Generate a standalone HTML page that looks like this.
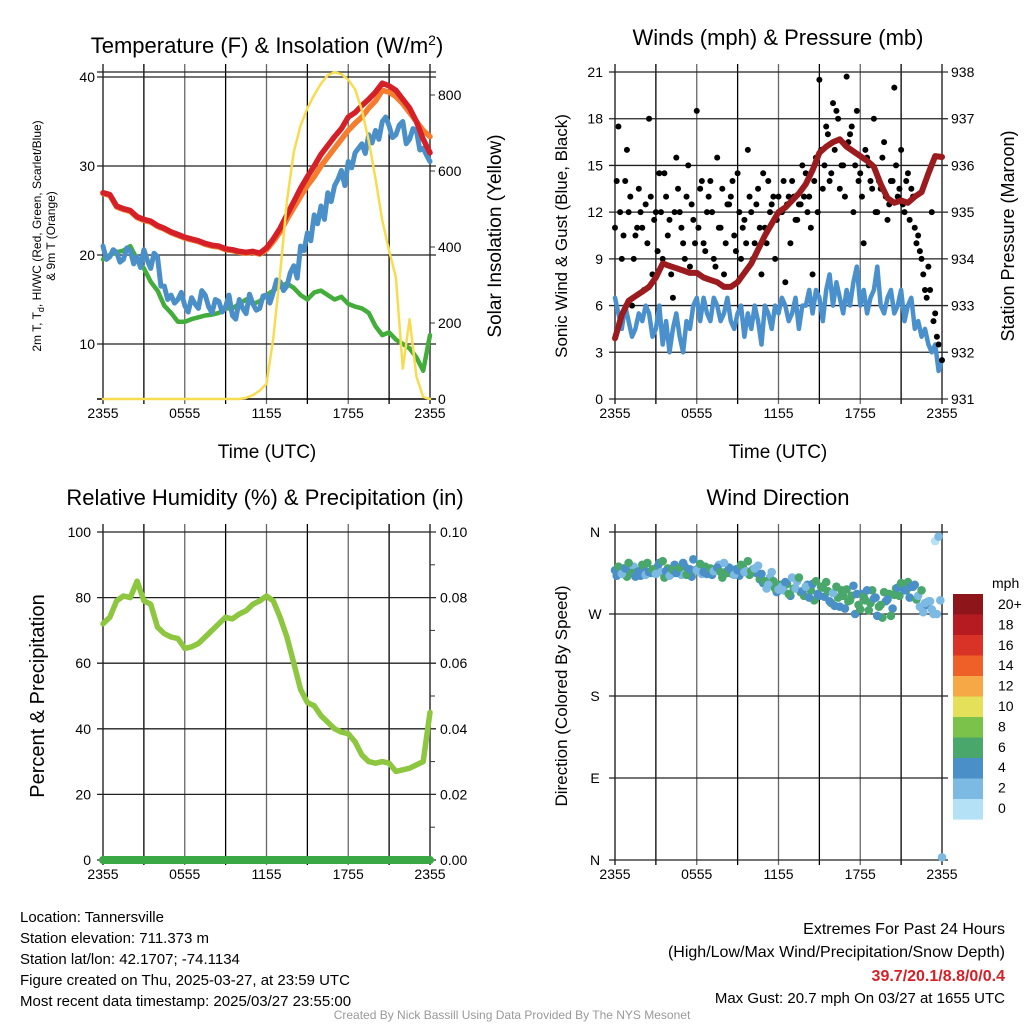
<!DOCTYPE html>
<html><head><meta charset="utf-8">
<style>
html,body{margin:0;padding:0;background:#fff;}
svg{display:block;font-family:"Liberation Sans",Arial,sans-serif;}
</style></head>
<body>
<svg id="chart" width="1024" height="1024" viewBox="0 0 1024 1024" xmlns="http://www.w3.org/2000/svg">
  <rect width="1024" height="1024" fill="#fff"/>
  <g id="p1"></g>
  <g id="p2"></g>
  <g id="p3"></g>
  <g id="p4"></g>

  <text x="267" y="53" font-size="22" text-anchor="middle">Temperature (F) &amp; Insolation (W/m<tspan dy="-8" font-size="14">2</tspan><tspan dy="8">)</tspan></text>
  <text x="778" y="45" font-size="22" text-anchor="middle">Winds (mph) &amp; Pressure (mb)</text>
  <text x="265" y="505" font-size="22" text-anchor="middle">Relative Humidity (%) &amp; Precipitation (in)</text>
  <text x="778" y="505" font-size="22" text-anchor="middle">Wind Direction</text>

  <text transform="translate(41,236) rotate(-90)" font-size="12" text-anchor="middle">2m T, T<tspan dy="3" font-size="9">d</tspan><tspan dy="-3">, HI/WC (Red, Green, Scarlet/Blue)</tspan></text>
  <text transform="translate(55,236) rotate(-90)" font-size="12" text-anchor="middle">&amp; 9m T (Orange)</text>
  <text transform="translate(501,236) rotate(-90)" font-size="19" text-anchor="middle">Solar Insolation (Yellow)</text>
  <text x="267" y="458" font-size="19" text-anchor="middle">Time (UTC)</text>
  <text transform="translate(567,236) rotate(-90)" font-size="17" text-anchor="middle">Sonic Wind &amp; Gust (Blue, Black)</text>
  <text transform="translate(1014,236) rotate(-90)" font-size="18" text-anchor="middle">Station Pressure (Maroon)</text>
  <text x="778" y="458" font-size="19" text-anchor="middle">Time (UTC)</text>
  <text transform="translate(44,696) rotate(-90)" font-size="20" text-anchor="middle">Percent &amp; Precipitation</text>
  <text transform="translate(567,696) rotate(-90)" font-size="17" text-anchor="middle">Direction (Colored By Speed)</text>

  <g font-size="15">
    <text x="20" y="922">Location: Tannersville</text>
    <text x="20" y="943">Station elevation: 711.373 m</text>
    <text x="20" y="964">Station lat/lon: 42.1707; -74.1134</text>
    <text x="20" y="985">Figure created on Thu, 2025-03-27, at 23:59 UTC</text>
    <text x="20" y="1006">Most recent data timestamp: 2025/03/27 23:55:00</text>
  </g>
  <g font-size="16" text-anchor="end">
    <text x="1005" y="934">Extremes For Past 24 Hours</text>
    <text x="1005" y="957">(High/Low/Max Wind/Precipitation/Snow Depth)</text>
    <text x="1005" y="981" fill="#d42026" font-weight="bold">39.7/20.1/8.8/0/0.4</text>
    <text x="1005" y="1003" font-size="15">Max Gust: 20.7 mph On 03/27 at 1655 UTC</text>
  </g>
  <text x="512" y="1019" font-size="12" fill="#999" text-anchor="middle">Created By Nick Bassill Using Data Provided By The NYS Mesonet</text>
</svg>
<script>
// ---- data (hours since 2355 UTC) ----
const xTickLabels = ["2355","0555","1155","1755","2355"];
// half-hourly
const tempRed = [27.0,26.8,25.5,25.2,25.0,24.3,24.0,23.8,23.3,23.0,22.6,22.3,22.0,21.8,21.6,21.3,21.1,21.0,20.7,20.6,20.4,20.3,20.4,20.2,20.8,21.8,23.0,24.5,26.0,27.5,28.8,30.0,31.3,32.3,33.3,34.2,35.5,36.0,36.8,37.5,38.3,39.3,39.0,38.5,37.5,36.5,35.0,33.0,31.5];
const tempOrange = [26.9,26.7,25.4,25.1,24.9,24.2,23.9,23.7,23.2,22.9,22.5,22.2,21.9,21.7,21.5,21.2,21.0,20.9,20.6,20.5,20.3,20.2,20.3,20.1,20.6,21.5,22.6,24.0,25.3,26.6,27.8,28.8,30.0,31.0,32.0,33.0,34.0,34.8,35.5,36.5,37.3,38.5,38.3,37.8,37.0,36.0,35.0,34.0,33.3];
// quarter-hourly
const tempBlue = [21.0,19.5,19.8,20.6,20.3,19.2,19.5,20.8,20.5,19.0,19.8,18.6,20.6,19.4,18.5,20.2,19.8,16.5,16.5,15.0,15.5,14.6,15.0,15.8,14.3,13.6,15.2,14.5,14.0,16.0,15.5,14.2,13.5,15.0,14.8,13.6,14.2,15.5,13.2,12.8,15.0,14.0,13.4,15.6,14.5,13.8,14.0,15.4,15.5,14.6,15.8,17.2,17.0,16.0,16.5,18.0,18.8,17.4,21.0,20.5,22.5,21.6,24.5,23.5,25.5,24.0,27.0,26.0,27.8,28.5,29.5,27.8,30.5,29.8,31.5,32.0,32.5,31.4,33.5,32.6,34.0,33.0,35.0,35.5,34.5,33.2,33.5,34.6,35.0,32.5,33.0,34.2,34.0,31.8,32.0,31.2,30.5];
const tempGreen = [19.5,20.0,20.3,20.5,21.0,19.5,18.5,17.0,16.0,14.3,13.5,12.5,12.5,12.8,13.0,13.2,13.3,13.5,14.0,14.0,14.5,15.0,14.5,14.8,15.5,16.0,16.5,16.8,16.3,15.5,15.0,15.8,16.0,15.5,15.0,15.3,14.5,14.2,14.0,13.5,12.0,11.0,11.3,10.5,10.0,9.5,8.5,7.0,11.0];
const solar = [0,0,0,0,0,0,0,0,0,0,0,0,0,0,0,0,0,0,0,0,0,3,10,22,40,160,330,520,650,720,765,800,830,852,860,855,840,815,760,680,580,470,390,320,80,210,60,5,0];
const tempTicks = [10,20,30,40];
const solarTicks = [0,200,400,600,800];
// quarter-hourly
const windSpeed = [6.5,5.5,4.5,6,5,4,4.5,5.5,5,6,5.5,4,4.5,6,3.5,5,3,4.5,5.5,4,3,5,4.5,6,6.5,5,6.5,5.5,5,6.5,6,5,5.5,6.5,5,4.5,5.5,6,4,5.5,4.5,6,5,3.5,6,5.5,4.5,6,5.5,6.5,6,5,5.5,6.5,4.5,6,6,7,5.5,7,6.5,5,7,8,6,7.5,6.5,5.5,7,6,7.5,8.5,6,7,5.5,6.5,7,8.5,6,5.5,6.5,7,5.5,6,7,5,6,6.5,4.5,5,4,4.5,3.5,3,3.5,1.8,2.5];
const pressure = [932.3,932.8,933.1,933.2,933.3,933.4,933.6,933.9,933.85,933.8,933.75,933.7,933.7,933.6,933.55,933.5,933.4,933.4,933.5,933.7,933.9,934.2,934.5,934.75,935.0,935.1,935.25,935.4,935.6,935.9,936.27,936.4,936.5,936.56,936.4,936.3,936.2,936.1,935.97,935.6,935.3,935.2,935.25,935.2,935.33,935.43,935.83,936.2,936.18];
const gustA = [11,17.5,9,14,12,6,10.5,13.5,11,12.5,18,8,12,14.5,9,13,11.5,6.5,15.5,12,10,13,8.5,11.5,18.5,13.5,10,12,14,9,15.5,11,8,12.5,13,10.5,14.5,9,11.5,16,12,10,13.5,8,11,14,12.5,9,13,12,7.5,13,14,11.5,12.5,15,14.5,13,8,15.5,20.5,13.5,17.5,14,19,18.5,13.5,15,20.7,17,12,18.5,14.5,10,15.5,14,18,12,13.5,16.5,11.5,14,20,13,16,12,14.5,13.5,11,10.5,9,7,8.5,12,5.5,3.5,2.5];
const gustB = [14,12,10.5,16,13,9,11,12,7,10,13,11.5,9.5,12,14.5,10.5,8,12,13.5,11,9,15,12.5,10,11,14,9.5,13,12,8.5,11,13.5,10,12.5,14,9.5,12,11,10,13,9,12.5,11,14.5,10,12,13,11.5,12,14,12.5,10,13,11.5,12.5,13,12,11,14,12,16,15,17,14.5,16,18,15,13,16.5,17.5,15,14,13,16,15,13.5,12,14,15.5,13,12.5,14,15,13.5,12.5,14,11.5,13,10,9.5,8,6.5,7,5,4];
const windTicks = [0,3,6,9,12,15,18,21];
const pressTicks = [931,932,933,934,935,936,937,938];
const rh = [72,74,79,80.5,80,85,79,78,71,69,68,67.5,64.5,65,66,68,70,72,74,73.5,75,76,78,79,80.5,79,74,68,60,52,48,47,44,42,40,39,38.5,36,32,30,29.5,30,29.5,27,27.5,28,29,30,45];
const precip = [0,0,0,0,0,0,0,0,0,0,0,0,0,0,0,0,0,0,0,0,0,0,0,0,0,0,0,0,0,0,0,0,0,0,0,0,0,0,0,0,0,0,0,0,0,0,0,0,0];
const rhTicks = [0,20,40,60,80,100];
const precipTicks = ["0.00","0.02","0.04","0.06","0.08","0.10"];
// wind direction, quarter-hourly (A) and offset by 1/8 h (B)
const dirVals = [318,322,314,320,326,315,311,317,324,313,316,319,314,326,328,317,312,318,315,321,326,313,319,330,318,325,316,314,320,317,321,316,326,315,319,313,318,324,316,328,317,320,323,314,306,302,316,298,297,300,305,292,310,298,310,295,300,288,303,306,290,299,305,284,293,300,278,290,297,285,301,292,275,289,296,282,287,268,280,294,286,268,291,299,304,296,305,300,302,290,296,282,284,275,350,355,3];
const dirSpeed = [4,6,3,4,6,7,4,5,6,3,5,6,3,5,6,4,3,6,4,7,5,6,4,5,3,6,5,4,6,3,5,7,3,6,4,2,5,6,3,7,6,2,3,5,6,2,3,6,2,3,4,7,3,2,6,5,3,5,4,6,5,7,7,5,3,6,5,6,7,6,5,4,7,7,5,6,4,5,7,6,5,7,6,4,6,5,6,4,5,3,6,3,2,2,1,2,2];
const dirValsB = [312,316,320,311,318,322,316,312,319,326,315,318,322,316,310,320,314,324,319,313,322,316,311,318,320,314,322,317,313,318,324,310,316,321,314,319,312,322,317,313,319,315,308,304,298,310,306,294,302,296,303,290,298,306,294,290,302,296,285,292,300,289,295,282,279,288,296,276,284,290,270,280,292,285,274,296,288,278,266,284,292,276,298,290,302,296,288,300,286,278,272,280,284,270,270,285];
const dirSpeedB = [5,6,4,6,5,3,6,4,5,6,4,6,5,3,6,6,4,5,6,3,5,6,4,6,5,3,6,4,5,6,3,6,4,5,6,4,5,6,3,6,5,4,6,5,2,3,6,4,6,3,6,5,7,3,6,6,4,7,6,5,6,4,7,6,5,6,7,4,6,7,5,6,4,7,6,6,5,6,7,4,6,5,6,7,4,6,5,4,6,3,2,4,3,2,2,3];
const dirLabels = ["N","E","S","W","N"];
const cbLabels = ["20+","18","16","14","12","10","8","6","4","2","0"];
const cbColors = ["#8e1519","#b61b22","#d93227","#ef6029","#f6a846","#e5e059","#7ac24a","#4aa76b","#4a8fc7","#7cb9e3","#b5e1f7"];

const NS = "http://www.w3.org/2000/svg";
function mk(parent, tag, attrs){
  const el = document.createElementNS(NS, tag);
  for (const k in attrs) el.setAttribute(k, attrs[k]);
  parent.appendChild(el);
  return el;
}
function frame(g, L, R, T, B, yTicksPx, rTicksPx, nameP){
  for (let i=0;i<=8;i++){
    const x = L + i*(R-L)/8;
    const ln = mk(g,'line',{x1:x,x2:x,y1:T-8,y2:B+5,stroke:(i%2? '#000':'#666'),'stroke-width':(i===0||i===8)?2:1.3});
    
    
  }
  yTicksPx.forEach(y=>{
    const ln = mk(g,'line',{x1:L-6,x2:R+6,y1:y,y2:y,stroke:'#222','stroke-width':1.3});
    
    
  });
  rTicksPx.forEach(y=>{
    const ln = mk(g,'line',{x1:R,x2:R+5,y1:y,y2:y,stroke:'#333','stroke-width':1});
    
    
  });
}
function xLabels(g, L, R, y){
  xTickLabels.forEach((s,i)=>{
    const t = mk(g,'text',{x:L+i*(R-L)/4,y:y,'font-size':14,'text-anchor':'middle'});
    t.textContent = s;
    
    
  });
}
function label(g,x,y,s,anchor){
  const t = mk(g,'text',{x:x,y:y,'font-size':14,'text-anchor':anchor});
  t.textContent = s;
  
  
}
function poly(g, arr, step, xf, yf, color, w, name){
  const pts = arr.map((v,i)=>xf(i*step).toFixed(1)+','+yf(v).toFixed(1)).join(' ');
  const p = mk(g,'polyline',{points:pts,fill:'none',stroke:color,'stroke-width':w,'stroke-linejoin':'round','stroke-linecap':'round'});
  
  
}

// ---- Panel 1 ----
(function(){
  const g = document.getElementById('p1');
  const L=103,R=430,T=72,B=399;
  const xs = h => L + h*(R-L)/24;
  const yT = v => 344 - (v-10)*8.9;
  const yS = v => 399 - v*76/200;
  frame(g,L,R,T,B,tempTicks.map(yT).concat([T]),solarTicks.map(yS),'temp');
  mk(g,'line',{x1:L-6,x2:R+6,y1:B,y2:B,stroke:'#000','stroke-width':1.5});
  tempTicks.forEach(v=>label(g,L-8,yT(v)+5,String(v),'end'));
  solarTicks.forEach(v=>label(g,R+8,yS(v)+5,String(v),'start'));
  xLabels(g,L,R,B+19);
  poly(g,tempGreen,0.5,xs,yT,'#43ad3c',4.5,'dewpoint-line');
  poly(g,tempBlue,0.25,xs,yT,'#4a8fc7',5,'windchill-line');
  poly(g,tempOrange,0.5,xs,yT,'#f47d2e',5.5,'temp-9m-line');
  poly(g,tempRed,0.5,xs,yT,'#d42026',5.5,'temp-2m-line');
  poly(g,solar,0.5,xs,yS,'#f8dc50',2.5,'solar-line');
})();

// ---- Panel 2 ----
(function(){
  const g = document.getElementById('p2');
  const L=615,R=942,T=72,B=399;
  const xs = h => L + h*(R-L)/24;
  const yW = v => 399 - v*327/21;
  const yP = v => 399 - (v-931)*327/7;
  frame(g,L,R,T,B,windTicks.map(yW),pressTicks.map(yP),'wind');
  windTicks.forEach(v=>label(g,L-12,yW(v)+5,String(v),'end'));
  pressTicks.forEach(v=>label(g,R+9,yP(v)+5,String(v),'start'));
  xLabels(g,L,R,B+19);
  poly(g,windSpeed,0.25,xs,yW,'#4a90cc',4.5,'sonic-wind-line');
  gustA.forEach((v,i)=>{
    const c = mk(g,'circle',{cx:xs(i*0.25),cy:yW(v),r:3,fill:'#000'});
    
    
  });
  gustB.forEach((v,i)=>{
    const c = mk(g,'circle',{cx:xs(i*0.25+0.125),cy:yW(v),r:3,fill:'#000'});
    
    
  });
  poly(g,pressure,0.5,xs,yP,'#9b1b1e',6,'pressure-line');
})();

// ---- Panel 3 ----
(function(){
  const g = document.getElementById('p3');
  const L=103,R=430,T=532,B=860;
  const xs = h => L + h*(R-L)/24;
  const yR = v => 860 - v*3.28;
  const yPr = v => 860 - v*3280;
  frame(g,L,R,T,B,rhTicks.map(yR),[0,1,2,3,4,5,6,7,8,9,10].map(i=>860-i*32.8),'rh');
  rhTicks.forEach(v=>label(g,L-12,yR(v)+5,String(v),'end'));
  precipTicks.forEach((s,i)=>label(g,R+10,yR(i*20)+5,s,'start'));
  xLabels(g,L,R,B+19);
  poly(g,rh,0.5,xs,yR,'#8dc63f',5.5,'humidity-line');
  poly(g,precip,0.5,xs,yPr,'#3aa845',8,'precipitation-line');
})();

// ---- Panel 4 ----
(function(){
  const g = document.getElementById('p4');
  const L=615,R=942,T=532,B=860;
  const xs = h => L + h*(R-L)/24;
  const yD = v => 860 - v*(328/360);
  frame(g,L,R,T,B,[0,90,180,270,360].map(yD),[],'dir');
  dirLabels.forEach((s,i)=>label(g,L-20,yD(i*90)+5,s,'middle'));
  xLabels(g,L,R,B+19);
  function dots(vals, spd, off){
    vals.forEach((v,i)=>{
      const bin = Math.min(10, Math.floor(spd[i]/2));
      const c = mk(g,'circle',{cx:xs(i*0.25+off),cy:yD(v),r:4.3,fill:cbColors[10-bin]});
      
      
    });
  }
  dots(dirValsB, dirSpeedB, 0.125);
  dots(dirVals, dirSpeed, 0);
  // colorbar
  const cb = mk(g,'g',{});
  
  
  const t = mk(cb,'text',{x:992,y:588,'font-size':14});
  t.textContent='mph';
  
  
  cbColors.forEach((c,i)=>{
    const r = mk(cb,'rect',{x:953,y:594+i*20.5,width:30,height:20.6,fill:c});
    
    
    const tx = mk(cb,'text',{x:998,y:609+i*20.4,'font-size':14});
    tx.textContent = cbLabels[i];
    
    
  });
})();
</script>
</body></html>
